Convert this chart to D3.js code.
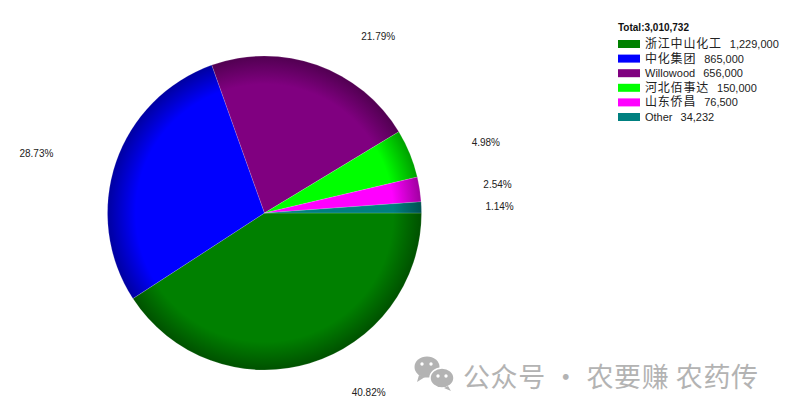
<!DOCTYPE html>
<html><head><meta charset="utf-8">
<script src="https://cdn.jsdelivr.net/npm/d3@7"></script>
<style>
html,body{margin:0;padding:0;background:#fff;}
svg{display:block;}
text{font-family:"Liberation Sans",Arial,"Noto Sans CJK SC",sans-serif;}
</style></head>
<body>
<svg id="chart" width="793" height="417"></svg>
<script>
const categories = ["浙江中山化工", "中化集团", "Willowood", "河北佰事达", "山东侨昌", "Other"];
const values = [1229000, 865000, 656000, 150000, 76500, 34232];
const colors = ["#008000", "#0000ff", "#800080", "#00ff00", "#ff00ff", "#008080"];
const totalLabel = "Total:";

const svg = d3.select("#chart");
const W = 793, H = 417;
const cx = 264.5, cy = 213, R = 157;
const total = d3.sum(values);
const data = categories.map((c, i) => ({name: c, value: values[i], color: colors[i]}));

const defs = svg.append("defs");
data.forEach((d, i) => {
  const g = defs.append("radialGradient").attr("id", "g" + i)
    .attr("gradientUnits", "userSpaceOnUse").attr("cx", 0).attr("cy", 0).attr("r", R);
  const base = d3.rgb(d.color);
  g.append("stop").attr("offset", "0%").attr("stop-color", base.formatHex());
  g.append("stop").attr("offset", "82%").attr("stop-color", base.formatHex());
  g.append("stop").attr("offset", "100%").attr("stop-color", base.darker(1.3).formatHex());
});

const pie = d3.pie().sort(null).value(d => d.value)
  .startAngle(Math.PI / 2).endAngle(Math.PI / 2 + 2 * Math.PI);
const arcs = pie(data);
const arc = d3.arc().innerRadius(0).outerRadius(R);

const gPie = svg.append("g").attr("transform", `translate(${cx},${cy})`);
gPie.selectAll("path").data(arcs).enter().append("path")
  .attr("d", arc)
  .attr("fill", (d, i) => `url(#g${i})`)
  .attr("stroke", "rgba(255,255,255,0.3)")
  .attr("stroke-width", 0.5);

// percentage labels
const labelR = R + 30, labelPad = 34;
const fmt = d3.format(".2f");
gPie.selectAll("text.pct").data(arcs).enter().append("text")
  .attr("class", "pct")
  .each(function(d) {
    const a = (d.startAngle + d.endAngle) / 2;
    const sx = Math.sin(a), sy = -Math.cos(a);
    const right = sx >= 0;
    d3.select(this)
      .attr("x", labelR * sx + (right ? labelPad : -labelPad))
      .attr("y", labelR * sy)
      .attr("text-anchor", right ? "start" : "end");
  })
  .attr("dominant-baseline", "central")
  .attr("font-size", 10)
  .attr("fill", "#222")
  .text(d => fmt(d.value / total * 100) + "%");

// legend
const lx = 618, ly0 = 27, rowH = 14.6, ly1 = 44;
const fmtN = d3.format(",");
svg.append("text").attr("x", lx).attr("y", ly0).attr("dominant-baseline", "central")
  .attr("font-size", 10).attr("font-weight", "bold").attr("fill", "#111")
  .text(totalLabel + fmtN(total));
const leg = svg.append("g").selectAll("g").data(data).enter().append("g")
  .attr("transform", (d, i) => `translate(${lx},${ly1 + i * rowH})`);
leg.append("rect").attr("x", 0).attr("y", -4).attr("width", 22).attr("height", 8)
  .attr("fill", d => d.color);
const lt = leg.append("text").attr("x", 27).attr("y", 0).attr("dominant-baseline", "central")
  .attr("fill", "#222");
lt.append("tspan").attr("font-size", d => /[\u4e00-\u9fff]/.test(d.name) ? 12 : 11)
  .attr("letter-spacing", d => /[\u4e00-\u9fff]/.test(d.name) ? 0.8 : 0)
  .text(d => d.name);
lt.append("tspan").attr("dx", 8).attr("font-size", 11).text(d => fmtN(d.value));

// watermark
const wm = svg.append("g").attr("fill", "#b3b3b3");
wm.append("ellipse").attr("cx", 427).attr("cy", 367).attr("rx", 12.5).attr("ry", 10.5);
wm.append("path").attr("d", "M419,375 L417,382 L425,377 Z");
wm.append("ellipse").attr("cx", 442).attr("cy", 378).attr("rx", 12).attr("ry", 10)
  .attr("stroke", "#fff").attr("stroke-width", 1.5);
wm.append("path").attr("d", "M448,386 L451,391 L444,388 Z");
[[422, 364], [431, 364], [438, 376], [446, 376]].forEach(p =>
  wm.append("circle").attr("cx", p[0]).attr("cy", p[1]).attr("r", 1.7).attr("fill", "#fff"));
svg.append("text").attr("x", 463).attr("y", 375).attr("dominant-baseline", "central")
  .attr("font-size", 27).attr("fill", "#b3b3b3")
  .attr("textLength", 295).attr("lengthAdjust", "spacing")
  .style("font-family", '"Noto Sans CJK SC",sans-serif')
  .text("公众号 · 农要赚 农药传");
</script>
</body></html>
